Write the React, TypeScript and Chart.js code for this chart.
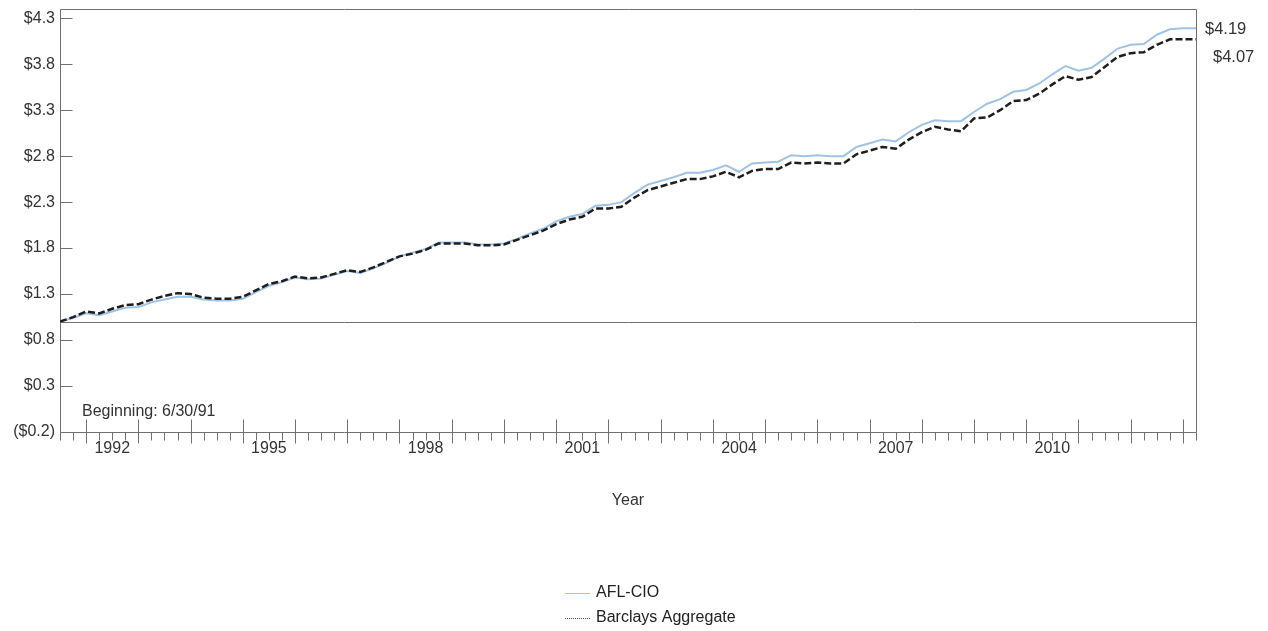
import React, { useEffect, useRef } from 'react';
import { Chart, registerables } from 'chart.js';

Chart.register(...registerables);

// Quarter-end dates as fractional years, starting 6/30/91
const startYear = 1991.5;
const quarterCount = 88;
const quarters = Array.from({ length: quarterCount }, (_, i) => startYear + i * 0.25);

const aflCio = [
  1.00, 1.04, 1.09, 1.07, 1.11, 1.15, 1.16, 1.21, 1.24, 1.27,
  1.27, 1.24, 1.23, 1.23, 1.25, 1.32, 1.39, 1.43, 1.48, 1.46,
  1.47, 1.51, 1.55, 1.53, 1.58, 1.64, 1.71, 1.75, 1.79, 1.86,
  1.86, 1.86, 1.84, 1.84, 1.85, 1.90, 1.96, 2.01, 2.09, 2.14,
  2.17, 2.26, 2.27, 2.30, 2.40, 2.49, 2.53, 2.57, 2.62, 2.62,
  2.65, 2.70, 2.63, 2.72, 2.73, 2.74, 2.81, 2.80, 2.81, 2.80,
  2.80, 2.90, 2.94, 2.98, 2.96, 3.06, 3.14, 3.19, 3.18, 3.18,
  3.28, 3.37, 3.42, 3.50, 3.52, 3.59, 3.69, 3.78, 3.73, 3.76,
  3.86, 3.97, 4.01, 4.02, 4.12, 4.18, 4.19, 4.19,
];

const barclays = [
  1.00, 1.05, 1.11, 1.09, 1.14, 1.18, 1.19, 1.24, 1.28, 1.31,
  1.30, 1.26, 1.25, 1.25, 1.27, 1.34, 1.41, 1.44, 1.49, 1.47,
  1.48, 1.52, 1.56, 1.54, 1.59, 1.65, 1.71, 1.74, 1.78, 1.85,
  1.85, 1.85, 1.83, 1.83, 1.84, 1.89, 1.94, 1.99, 2.06, 2.11,
  2.14, 2.23, 2.23, 2.25, 2.35, 2.43, 2.47, 2.51, 2.55, 2.55,
  2.58, 2.63, 2.57, 2.64, 2.66, 2.66, 2.73, 2.72, 2.73, 2.72,
  2.72, 2.82, 2.86, 2.90, 2.88, 2.98, 3.06, 3.12, 3.09, 3.07,
  3.21, 3.22, 3.30, 3.40, 3.41, 3.48, 3.58, 3.67, 3.63, 3.66,
  3.77, 3.88, 3.92, 3.93, 4.01, 4.07, 4.07, 4.07,
];

const yTicks = [-0.2, 0.3, 0.8, 1.3, 1.8, 2.3, 2.8, 3.3, 3.8, 4.3];
const yearLabels = [1992, 1995, 1998, 2001, 2004, 2007, 2010];
const seriesNames = ['AFL-CIO', 'Barclays Aggregate'];
const endLabels = ['$4.19', '$4.07'];
const baselineValue = 1.0;
const beginningText = 'Beginning: 6/30/91';

const FONT = '"Liberation Sans", Arial, sans-serif';
const TEXT = '#333333';
const AXIS = '#707070';
const AFL_COLOR = '#9ec3e6';
const BARC_COLOR = '#1e1e1e';

const fmtMoney = (v: number) => {
  const s = '$' + Math.abs(v).toFixed(1);
  return v < 0 ? '(' + s + ')' : s;
};

const decor = {
  id: 'decor',
  beforeDatasetsDraw(chart: any) {
    const { ctx, chartArea, scales } = chart;
    const { left, right, top, bottom } = chartArea;
    const x = scales.x;
    const y = scales.y;
    ctx.save();
    ctx.strokeStyle = AXIS;
    ctx.lineWidth = 1;
    const L = Math.round(left) + 0.5;
    const R = Math.round(right) + 0.5;
    const T = Math.round(top) + 0.5;
    const B = Math.round(bottom) + 0.5;
    ctx.beginPath();
    ctx.moveTo(L, B);
    ctx.lineTo(L, T);
    ctx.lineTo(R, T);
    ctx.lineTo(R, B);
    ctx.lineTo(L, B);
    ctx.stroke();
    // baseline at $1.0
    const by = Math.round(y.getPixelForValue(baselineValue)) + 0.5;
    ctx.beginPath();
    ctx.moveTo(L, by);
    ctx.lineTo(R, by);
    ctx.stroke();
    // y tick marks (inside)
    ctx.beginPath();
    for (const v of yTicks) {
      const py = Math.round(y.getPixelForValue(v)) + 0.5;
      ctx.moveTo(L, py);
      ctx.lineTo(L + 12, py);
    }
    ctx.stroke();
    // x tick marks (quarterly, year majors)
    ctx.beginPath();
    for (const q of quarters) {
      const px = Math.round(x.getPixelForValue(q)) + 0.5;
      if (Number.isInteger(q)) {
        ctx.moveTo(px, B - 13);
        ctx.lineTo(px, B + 11);
      } else {
        ctx.moveTo(px, B);
        ctx.lineTo(px, B + 8);
      }
    }
    ctx.stroke();
    ctx.restore();
  },
  afterDatasetsDraw(chart: any) {
    const { ctx, chartArea, scales } = chart;
    const { left, right, bottom } = chartArea;
    const y = scales.y;
    ctx.save();
    ctx.fillStyle = TEXT;
    ctx.textBaseline = 'middle';
    ctx.textAlign = 'left';
    ctx.font = '16.5px ' + FONT;
    // end-value labels
    const aflEnd = aflCio[aflCio.length - 1];
    const barEnd = barclays[barclays.length - 1];
    ctx.fillText(endLabels[0], right + 9, y.getPixelForValue(aflEnd) + 1);
    ctx.fillText(endLabels[1], right + 17, y.getPixelForValue(barEnd) + 18);
    // beginning note
    ctx.font = '16px ' + FONT;
    ctx.fillText(beginningText, left + 22, bottom - 20);
    // legend
    const lx = 565;
    const rows = [
      { name: seriesNames[0], color: AFL_COLOR, dash: [] as number[], y: 593 },
      { name: seriesNames[1], color: '#555555', dash: [1, 1], y: 618 },
    ];
    for (const r of rows) {
      ctx.strokeStyle = r.color;
      ctx.lineWidth = 1;
      ctx.setLineDash(r.dash);
      ctx.beginPath();
      ctx.moveTo(lx, r.y + 0.5);
      ctx.lineTo(lx + 25, r.y + 0.5);
      ctx.stroke();
      ctx.setLineDash([]);
      ctx.fillStyle = '#222222';
      ctx.fillText(r.name, lx + 31, r.y);
    }
    ctx.restore();
  },
};

export default function App() {
  const ref = useRef<HTMLCanvasElement | null>(null);
  useEffect(() => {
    if (!ref.current) return;
    const chart = new Chart(ref.current, {
      type: 'line',
      data: {
        datasets: [
          {
            label: seriesNames[0],
            data: quarters.map((q, i) => ({ x: q, y: aflCio[i] })),
            borderColor: AFL_COLOR,
            borderWidth: 2,
            pointRadius: 0,
            tension: 0,
            fill: false,
            order: 2,
          },
          {
            label: seriesNames[1],
            data: quarters.map((q, i) => ({ x: q, y: barclays[i] })),
            borderColor: BARC_COLOR,
            borderWidth: 2.5,
            borderDash: [7, 3],
            pointRadius: 0,
            tension: 0,
            fill: false,
            order: 1,
          },
        ],
      },
      options: {
        responsive: false,
        animation: false,
        layout: { padding: { top: 9, right: 72, bottom: 121, left: 0 } },
        plugins: {
          legend: { display: false },
          tooltip: { enabled: false },
        },
        scales: {
          x: {
            type: 'linear',
            min: quarters[0],
            max: quarters[quarters.length - 1],
            grid: { display: false, drawTicks: false },
            border: { display: false },
            afterBuildTicks: (scale: any) => {
              scale.ticks = yearLabels.map((yr) => ({ value: yr + 0.5 }));
            },
            afterFit: (scale: any) => {
              scale.height = 78;
              scale.paddingLeft = 0;
              scale.paddingRight = 0;
            },
            ticks: {
              autoSkip: false,
              maxRotation: 0,
              padding: 7,
              color: TEXT,
              font: { family: FONT, size: 16 },
              callback: (v: any) => String(Math.floor(Number(v))),
            },
            title: {
              display: true,
              text: 'Year',
              color: TEXT,
              font: { family: FONT, size: 16 },
              padding: 0,
            },
          },
          y: {
            type: 'linear',
            min: -0.2,
            max: 4.4,
            grid: { display: false, drawTicks: false },
            border: { display: false },
            afterBuildTicks: (scale: any) => {
              scale.ticks = yTicks.map((v) => ({ value: v }));
            },
            afterFit: (scale: any) => {
              scale.width = 60;
              scale.paddingTop = 0;
              scale.paddingBottom = 0;
            },
            ticks: {
              padding: 5,
              color: TEXT,
              font: { family: FONT, size: 16 },
              callback: (v: any) => fmtMoney(Number(v)),
            },
          },
        },
      },
      plugins: [decor],
    } as any);
    return () => chart.destroy();
  }, []);
  return (
    <div style={{ position: 'absolute', left: 0, top: 0, width: 1268, height: 631, background: '#fff' }}>
      <canvas ref={ref} width={1268} height={631} />
    </div>
  );
}
